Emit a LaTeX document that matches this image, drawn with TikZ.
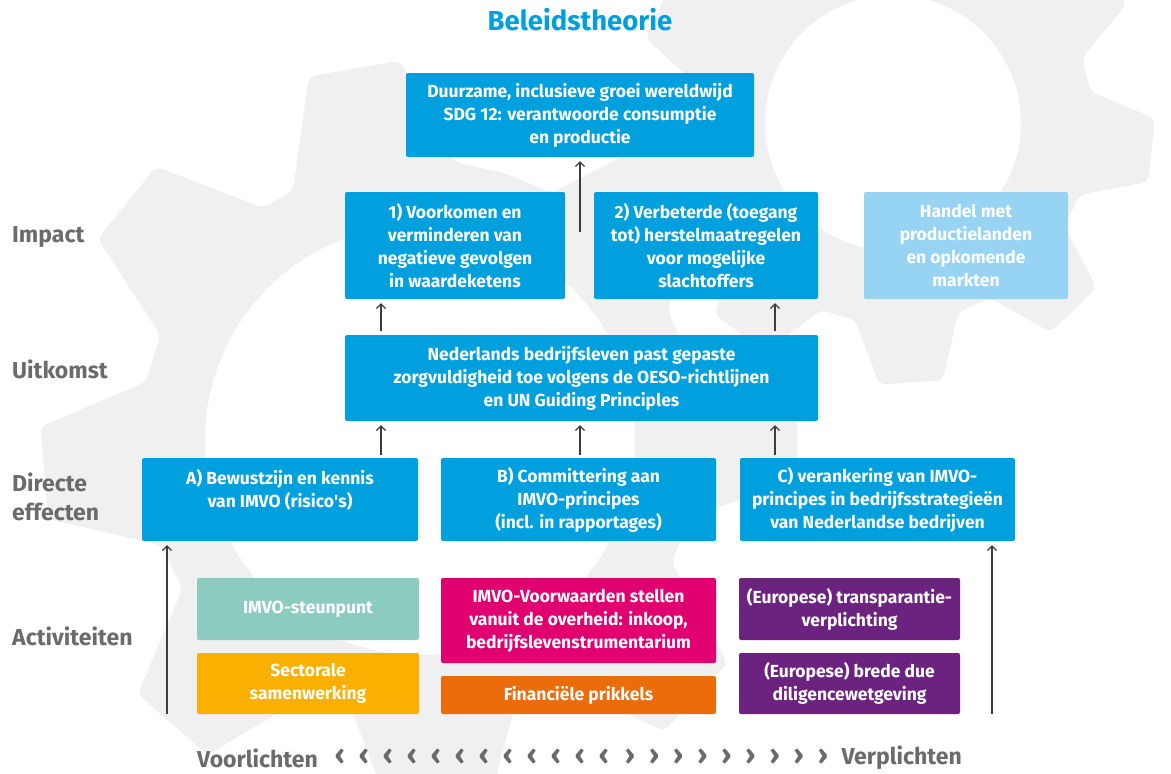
\documentclass[tikz,border=0pt]{standalone}
\usepackage{fontspec}
\setmainfont{Fira Sans}
\usepackage{xcolor}
\usetikzlibrary{arrows.meta, calc, positioning}
\definecolor{rijksblauw}{HTML}{00A0DF}
\definecolor{lichtblauw}{HTML}{97D4F4}
\definecolor{mintgroen}{HTML}{8CCBBF}
\definecolor{geel}{HTML}{F9B000}
\definecolor{robijn}{HTML}{E1006F}
\definecolor{oranje}{HTML}{EC6B0A}
\definecolor{paars}{HTML}{6B237F}
\definecolor{labelgrijs}{HTML}{6B6B6B}
\definecolor{pijlgrijs}{HTML}{3C3C3C}
\definecolor{tandgrijs}{HTML}{F0F0F0}
\newcommand{\boxfont}{\fontsize{17.5}{23}\selectfont\bfseries}
\newcommand{\rowfont}{\fontsize{23}{29}\selectfont\bfseries}
\newcommand{\titelfont}{\fontsize{27.5}{30}\selectfont\bfseries}
\newcommand{\chevfont}{\fontsize{28}{30}\selectfont\bfseries}
\tikzset{> = { Straight Barb[length = 4.5pt, width = 9pt] }}
\tikzset{
	box/.style = {rounded corners = 2pt, text = white, font = \boxfont, align = center, inner sep = 0pt},
	effectbox/.style = {box, fill = rijksblauw},
	rowlabel/.style = {anchor = west, text = labelgrijs, font = \rowfont, align = left, inner sep = 0pt},
	pijl/.style = {->, draw = pijlgrijs, line width = 1.2pt},
	chev/.style = {text = labelgrijs, font = \chevfont, inner sep = 0pt},
	tandwiel/.style = {fill = tandgrijs, rounded corners = 7pt}
}

\begin{document}
\begin{tikzpicture}[x = 1pt, y = -1pt]
	\useasboundingbox (0, 0) rectangle (1171, 774);

	\begin{scope}[shift = {(420, 440)}]
		\fill [tandwiel, even odd rule] ({-72.5}:280)
			\foreach \a in {100, 141, 185, 229, 273, 317, 361, 405} { -- ({-(\a - 17)}:280) -- ({-(\a - 7)}:380) -- ({-(\a + 7)}:380) -- ({-(\a + 17)}:280) }
			-- cycle (0, 0) circle (215);
	\end{scope}
	\begin{scope}[shift = {(893, 123)}]
		\fill [tandwiel, even odd rule] (106:200)
			\foreach \a in {-86, -46, ..., 234} { -- ({-(\a - 15)}:200) -- ({-(\a - 7)}:262) -- ({-(\a + 7)}:262) -- ({-(\a + 15)}:200) }
			-- cycle (0, 0) circle (128);
	\end{scope}

	\node [text = rijksblauw, font = \titelfont, inner sep = 0pt] (titel) at (580, 20) {Beleidstheorie};

	\node [effectbox, minimum width = 348, minimum height = 84] (groei) at (580, 115) {Duurzame, inclusieve groei wereldwijd\\SDG 12: verantwoorde consumptie\\en productie};
	\node [effectbox, minimum width = 220, minimum height = 107] (impact1) at (455, 245.5) {1) Voorkomen en\\verminderen van\\negatieve gevolgen\\in waardeketens};
	\node [effectbox, minimum width = 224, minimum height = 107] (impact2) at (706, 245.5) {2) Verbeterde (toegang\\tot) herstelmaatregelen\\voor mogelijke\\slachtoffers};
	\node [box, fill = lichtblauw, minimum width = 204, minimum height = 107] (handel) at (966, 245.5) {Handel met\\productielanden\\en opkomende\\markten};
	\node [effectbox, minimum width = 473, minimum height = 86] (uitkomst) at (581.5, 378) {Nederlands bedrijfsleven past gepaste\\zorgvuldigheid toe volgens de OESO-richtlijnen\\en UN Guiding Principles};
	\node [effectbox, minimum width = 276, minimum height = 83] (effectA) at (280, 499.5) {A) Bewustzijn en kennis\\van IMVO (risico\textquotesingle s)\\~};
	\node [effectbox, minimum width = 275, minimum height = 83] (effectB) at (578.5, 499.5) {B) Committering aan\\IMVO-principes\\(incl. in rapportages)};
	\node [effectbox, minimum width = 275, minimum height = 83] (effectC) at (877.5, 499.5) {C) verankering van IMVO-\\principes in bedrijfsstrategieën\\van Nederlandse bedrijven};

	\node [box, fill = mintgroen, minimum width = 222, minimum height = 62] (steunpunt) at (308, 609) {IMVO-steunpunt};
	\node [box, fill = geel, minimum width = 222, minimum height = 61] (sectoraal) at (308, 683.5) {Sectorale\\samenwerking};
	\node [box, fill = robijn, minimum width = 275, minimum height = 85] (voorwaarden) at (578.5, 620.5) {IMVO-Voorwaarden stellen\\vanuit de overheid: inkoop,\\bedrijfslevenstrumentarium};
	\node [box, fill = oranje, minimum width = 275, minimum height = 38] (prikkels) at (578.5, 695) {Financiële prikkels};
	\node [box, fill = paars, minimum width = 221, minimum height = 62] (transparantie) at (849.5, 609) {(Europese) transparantie-\\verplichting};
	\node [box, fill = paars, minimum width = 221, minimum height = 61] (duediligence) at (849.5, 683.5) {(Europese) brede due\\diligencewetgeving};

	\node [rowlabel] (impact) at (12, 237) {Impact};
	\node [rowlabel] (uitkomstlabel) at (12, 369) {Uitkomst};
	\node [rowlabel] (directe) at (12, 496.5) {Directe\\effecten};
	\node [rowlabel] (activiteiten) at (12, 636) {Activiteiten};

	\coordinate (kolL) at (381, 0);
	\coordinate (kolM) at (580, 0);
	\coordinate (kolR) at (775, 0);
	\coordinate (voetgroei) at (580, 232);
	\coordinate (voetL) at (167, 714);
	\coordinate (voetR) at (992, 714);
	\draw [pijl, shorten > = 4pt] (voetgroei) -- (groei.south);
	\draw [pijl, shorten < = 4pt, shorten > = 4pt] (uitkomst.north -| kolL) -- (impact1.south -| kolL);
	\draw [pijl, shorten < = 4pt, shorten > = 4pt] (uitkomst.north -| kolR) -- (impact2.south -| kolR);
	\draw [pijl, shorten < = 3pt, shorten > = 4pt] (effectA.north -| kolL) -- (uitkomst.south -| kolL);
	\draw [pijl, shorten < = 3pt, shorten > = 4pt] (effectB.north -| kolM) -- (uitkomst.south -| kolM);
	\draw [pijl, shorten < = 3pt, shorten > = 4pt] (effectC.north -| kolR) -- (uitkomst.south -| kolR);
	\draw [pijl, shorten > = 4pt] (voetL) -- (effectA.south -| voetL);
	\draw [pijl, shorten > = 4pt] (voetR) -- (effectC.south -| voetR);

	\node [rowlabel] (voorlichten) at (197, 758) {Voorlichten};
	\foreach \i in {0, ..., 11}
		\node [chev] (links\i) at (340 + 24 * \i, 757) {‹};
	\foreach \i in {0, ..., 8}
		\node [chev] (rechts\i) at (630 + 24.1 * \i, 757) {›};
	\node [rowlabel, anchor = east] (verplichten) at (962, 758) {Verplichten};
\end{tikzpicture}
\end{document}
